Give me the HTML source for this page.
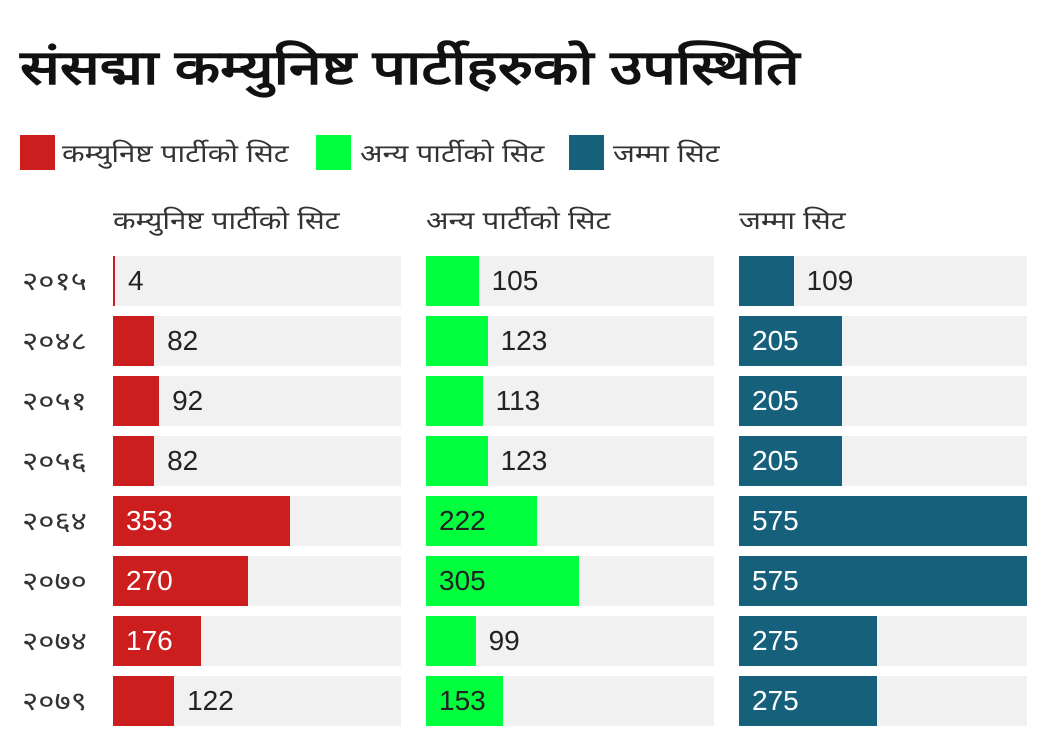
<!DOCTYPE html>
<html><head><meta charset="utf-8"><style>
body{margin:0;width:1042px;height:744px;background:#fff;font-family:"Liberation Sans",sans-serif;color:#222;position:relative;overflow:hidden}
.a{position:absolute;white-space:nowrap}
.s{transform-origin:0 50%;transform:scaleX(1.18)}
.t{left:20px;top:34px;font-size:48px;font-weight:bold;color:#111;transform-origin:0 50%;transform:scaleX(1.23)}
.lg{top:135px;width:35px;height:35px}
.lt{top:136px;font-size:25px;color:#333}
.h{top:203px;font-size:25px;color:#333}
.bg{background:#f1f1f1;height:50px;width:288px}
.b{height:50px}
.v{font-size:28px;line-height:50px}
.y{left:22px;font-size:26px;line-height:50px;color:#333;transform-origin:0 50%;transform:scaleX(1.2)}
</style></head><body>
<div class="a t">संसद्मा कम्युनिष्ट पार्टीहरुको उपस्थिति</div>
<div class="a lg" style="left:20px;background:#cc1e1e"></div><div class="a lt s" style="left:62px">कम्युनिष्ट पार्टीको सिट</div>
<div class="a lg" style="left:316px;background:#00ff3c"></div><div class="a lt s" style="left:360px">अन्य पार्टीको सिट</div>
<div class="a lg" style="left:569px;background:#17607c"></div><div class="a lt s" style="left:613px">जम्मा सिट</div>
<div class="a h s" style="left:113px">कम्युनिष्ट पार्टीको सिट</div>
<div class="a h s" style="left:426px">अन्य पार्टीको सिट</div>
<div class="a h s" style="left:739px">जम्मा सिट</div>
<div id="c"></div>
<script>
var d=[["२०१५",4,105,109],["२०४८",82,123,205],["२०५१",92,113,205],["२०५६",82,123,205],["२०६४",353,222,575],["२०७०",270,305,575],["२०७४",176,99,275],["२०७९",122,153,275]];
var cols=[113,426,739],clr=["#cc1e1e","#00ff3c","#17607c"],h="";
d.forEach(function(r,i){var top=256+i*60;
h+='<div class="a y" style="top:'+top+'px">'+r[0]+'</div>';
for(var j=0;j<3;j++){var x=cols[j],v=r[j+1],w=Math.max(2,v*288/575);
h+='<div class="a bg" style="left:'+x+'px;top:'+top+'px"></div>';
h+='<div class="a b" style="left:'+x+'px;top:'+top+'px;width:'+w+'px;background:'+clr[j]+'"></div>';
var inside=w>=75,col=inside?(j==1?'#222':'#fff'):'#222',lx=inside?x+13:x+w+13;
h+='<div class="a v" style="left:'+lx+'px;top:'+top+'px;color:'+col+'">'+v+'</div>';}
});
document.getElementById("c").innerHTML=h;
</script>
</body></html>
